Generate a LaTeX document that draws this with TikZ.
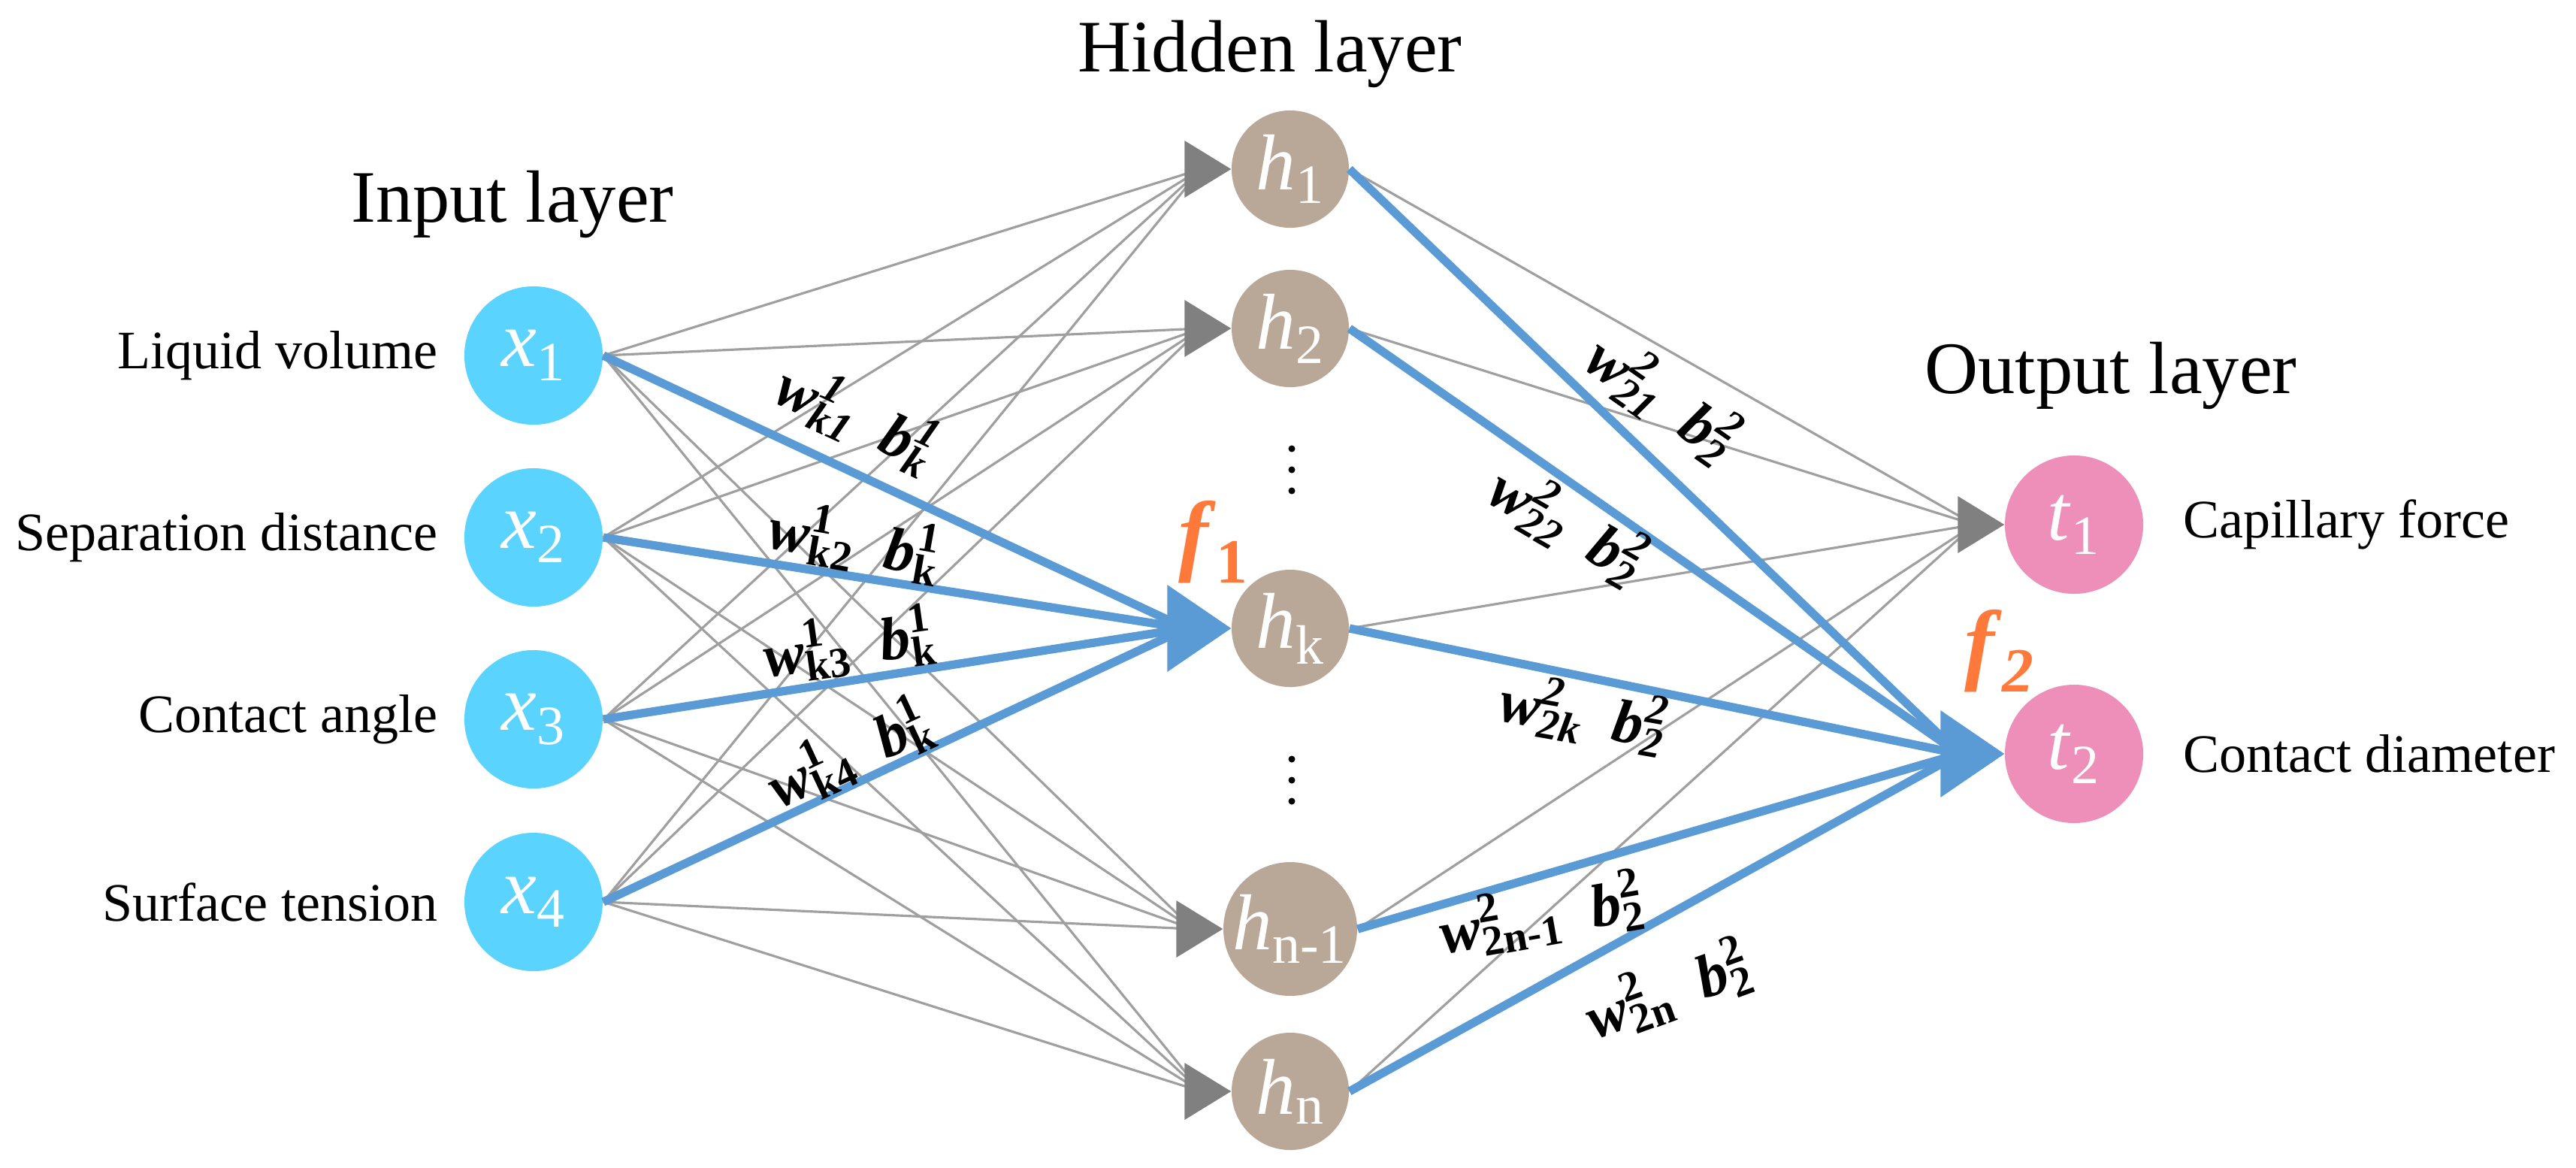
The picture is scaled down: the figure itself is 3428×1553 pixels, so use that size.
\documentclass[tikz,border=0pt]{standalone}
\usepackage{fontspec}
\setmainfont{Liberation Serif}
\usetikzlibrary{calc}
\definecolor{inC}{HTML}{5AD3FE}
\definecolor{hidC}{HTML}{B9A898}
\definecolor{outC}{HTML}{EE8FBA}
\definecolor{blu}{HTML}{5B9BD5}
\definecolor{org}{HTML}{FF7A3A}
\newcommand{\vsub}[2]{\textit{#1}\textsubscript{#2}}
\newcommand{\wbx}[3]{\textit{#1}\rlap{\textsuperscript{#2}}\textsubscript{#3}}
\begin{document}
\begin{tikzpicture}[x=0.01cm,y=-0.01cm,
  nd/.style={circle,draw=none,inner sep=0,text=white,font=\fontsize{30}{32}\selectfont},
  inp/.style={nd,fill=inC,minimum size=1.84cm},
  hid/.style={nd,fill=hidC,minimum size=1.56cm},
  outn/.style={nd,fill=outC,minimum size=1.84cm},
  thinE/.style={draw=gray!75,line width=0.9pt},
  thickE/.style={draw=blu,line width=3.2pt},
  lab/.style={font=\fontsize{20.5}{22}\selectfont},
  ttl/.style={font=\fontsize{28}{30}\selectfont},
  wl/.style={font=\bfseries\fontsize{23}{24}\selectfont},
  fl/.style={font=\bfseries\fontsize{34}{36}\selectfont,text=org},
  dot/.style={circle,fill=black,inner sep=0,minimum size=0.09cm}]
\useasboundingbox (0,0) rectangle (3428,1553);
% input nodes
\foreach \n/\y in {1/473,2/715,3/957,4/1200}{
  \node[inp] (x\n) at (710,\y) {\vsub{x}{\n}};
}
% hidden
\foreach \n/\t/\y in {1/1/225,2/2/437,k/k/836,m/n-1/1236,n/n/1452}{
  \node[hid] (h\n) at (1717,\y) {\vsub{h}{\t}};
}
% outputs
\node[outn] (t1) at (2760,698) {\vsub{t}{1}};
\node[outn] (t2) at (2760,1003) {\vsub{t}{2}};
% dots
\foreach \y in {597,625,653,1010,1038,1066}{
  \node[dot] at (1719,\y) {};
}
% thin connections
\foreach \i in {1,2,3,4}{
  \foreach \h in {1,2,m,n}{
    \draw[thinE] (x\i.east) -- ($(h\h.west)+(-40,0)$);
  }
}
\foreach \h in {1,2,k,m,n}{
  \draw[thinE] (h\h.east) -- ($(t1.west)+(-40,0)$);
}
% thick connections
\foreach \i in {1,2,3,4}{
  \draw[thickE] (x\i.east) -- ($(hk.west)+(-60,0)$);
}
\foreach \h in {1,2,k,m,n}{
  \draw[thickE] (h\h.east) -- ($(t2.west)+(-60,0)$);
}
% arrowheads
\foreach \h in {1,2,m,n}{
  \fill[gray] (h\h.west) -- ++(-62,-38) -- ++(0,76) -- cycle;
}
\fill[gray] (t1.west) -- ++(-62,-38) -- ++(0,76) -- cycle;
\fill[blu] (hk.west) -- ++(-85,-58) -- ++(0,116) -- cycle;
\fill[blu] (t2.west) -- ++(-85,-58) -- ++(0,116) -- cycle;
% input labels
\node[lab,anchor=east] (l1) at (595,473) {Liquid volume};
\node[lab,anchor=east] (l2) at (595,715) {Separation distance};
\node[lab,anchor=east] (l3) at (595,957) {Contact angle};
\node[lab,anchor=east] (l4) at (595,1200) {Surface tension};
\node[lab,anchor=west] (o1) at (2893,698) {Capillary force};
\node[lab,anchor=west] (o2) at (2893,1003) {Contact diameter};
% titles
\node[ttl] (ti) at (682,272) {Input layer};
\node[ttl] (th) at (1690,72) {Hidden layer};
\node[ttl] (to) at (2809,500) {Output layer};
% weight labels
\node[wl,rotate=-25] (w1) at (1140,555) {\wbx{w}{\textit{1}}{\textit{k1}}\ \ \wbx{b}{\textit{1}}{\textit{k}}};
\node[wl,rotate=-10] (w2) at (1138,721) {\wbx{w}{1}{k2}\ \ \wbx{b}{1}{k}};
\node[wl,rotate=8] (w3) at (1130,858) {\wbx{w}{1}{k3}\ \ \wbx{b}{1}{k}};
\node[wl,rotate=25] (w4) at (1130,1003) {\wbx{w}{1}{k4}\ \ \wbx{b}{1}{k}};
\node[fl] (f1) at (1615,721) {\vsub{f}{1}};
\node[wl,rotate=-35] (v1) at (2212,530) {\wbx{w}{\textit{2}}{\textit{21}}\ \ \wbx{b}{\textit{2}}{\textit{2}}};
\node[wl,rotate=-30] (v2) at (2086,698) {\wbx{w}{\textit{2}}{\textit{22}}\ \ \wbx{b}{\textit{2}}{\textit{2}}};
\node[wl,rotate=-10] (v3) at (2107,950) {\wbx{w}{\textit{2}}{\textit{2k}}\ \ \wbx{b}{\textit{2}}{\textit{2}}};
\node[wl,rotate=10] (v4) at (2051,1218) {\wbx{w}{2}{2n-1}\ \ \wbx{b}{2}{2}};
\node[wl,rotate=20] (v5) at (2219,1318) {\wbx{w}{2}{2n}\ \ \wbx{b}{2}{2}};
\node[fl] (f2) at (2661,866) {\textit{f}\textsubscript{\textit{2}}};
\end{tikzpicture}
\end{document}
